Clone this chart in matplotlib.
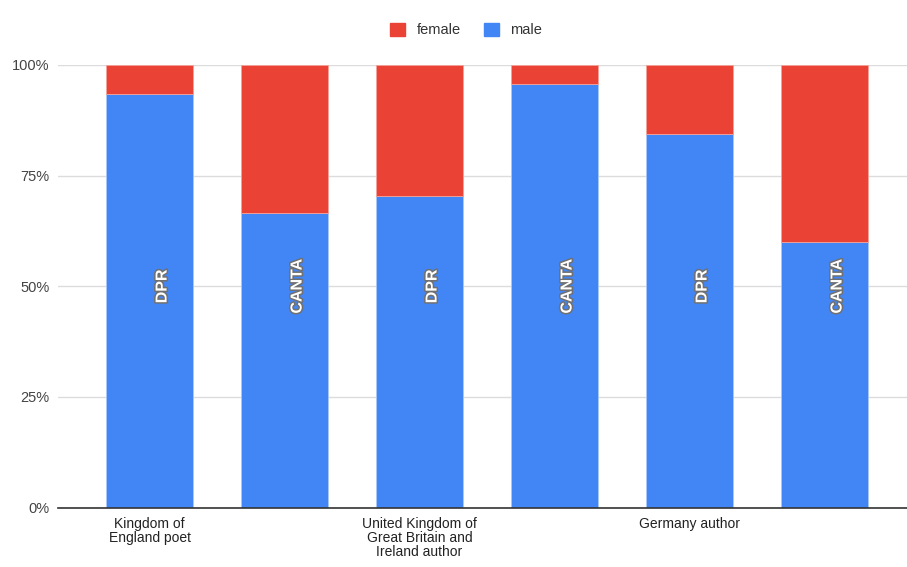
import numpy as np
import matplotlib.pyplot as plt
import matplotlib.patheffects as pe
from matplotlib.patches import Patch

plt.rcParams['font.family'] = ['Liberation Sans', 'DejaVu Sans']

# data (share of male / female per bar)
groups = ["Kingdom of\nEngland poet", "", "United Kingdom of\nGreat Britain and\nIreland author",
          "", "Germany author", ""]
sources = ["DPR", "CANTA", "DPR", "CANTA", "DPR", "CANTA"]
male = [0.934, 0.666, 0.705, 0.956, 0.844, 0.600]
female = [1 - m for m in male]

BLUE = "#4285F4"
RED = "#EA4335"

fig = plt.figure(figsize=(9.07, 5.67), dpi=100)
ax = fig.add_axes([58/907, 1 - 507.5/567, 1 - 58/907, (507.5 - 65)/567])

x = np.arange(len(male))
ax.bar(x, male, width=0.644, color=BLUE, edgecolor="#a9c7fb", linewidth=0.6, zorder=3)
ax.bar(x, female, bottom=male, width=0.644, color=RED, edgecolor="#f4a29b", linewidth=0.6, zorder=3)

# rotated source labels in the bars
for xi, s in zip(x, sources):
    ax.text(xi + 0.093, 0.5, s, rotation=90, ha="center", va="center", color="white",
            fontsize=11.5, fontweight="bold", zorder=4,
            path_effects=[pe.withStroke(linewidth=2.2, foreground="#707070")])

ax.set_xlim(-0.678, 5.611)
ax.set_ylim(0, 1)
ax.set_yticks([0, 0.25, 0.5, 0.75, 1.0])
ax.set_yticklabels(["0%", "25%", "50%", "75%", "100%"], fontsize=10.5, color="#444444")
ax.grid(axis="y", color="#dcdcdc", linewidth=1, zorder=0)
ax.set_xticks(x)
ax.set_xticklabels(groups, fontsize=10, color="#222222", linespacing=1.0)
ax.tick_params(axis="both", length=0, pad=6)
ax.tick_params(axis="x", pad=7)
for side in ["top", "right", "left"]:
    ax.spines[side].set_visible(False)
ax.spines["bottom"].set_color("#333333")
ax.spines["bottom"].set_linewidth(1.2)
ax.spines["bottom"].set_zorder(5)

handles = [Patch(color=RED, label="female"), Patch(color=BLUE, label="male")]
fig.legend(handles=handles, loc="center", bbox_to_anchor=(0.514, 0.947), ncol=2,
           frameon=False, fontsize=10.5, handlelength=1.0, handleheight=1.0,
           handletextpad=0.8, columnspacing=1.6, labelcolor="#333333")

fig.savefig("out.png", dpi=100)
